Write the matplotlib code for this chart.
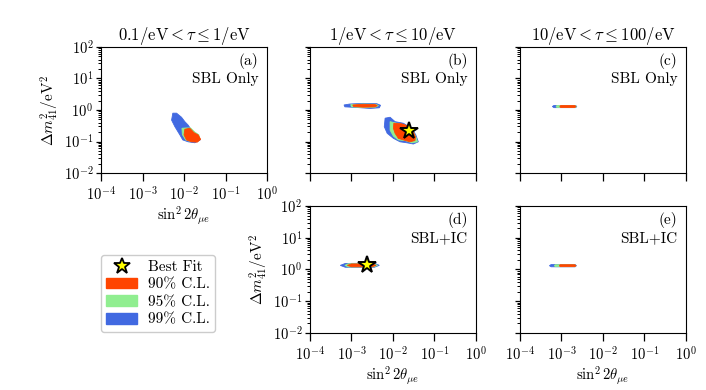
import numpy as np
import matplotlib
matplotlib.use("Agg")
import matplotlib.pyplot as plt
from matplotlib.lines import Line2D
from matplotlib.patches import Patch
from matplotlib.ticker import LogLocator, NullLocator

plt.rcParams['mathtext.fontset'] = 'cm'
plt.rcParams['font.family'] = 'serif'
plt.rcParams['font.serif'] = ['cmr10', 'DejaVu Serif']
plt.rcParams['axes.formatter.use_mathtext'] = True

# allowed-region outlines, as (log10 sin^2 2theta, log10 dm2) vertices
A_99 = [(-2.27, -0.10), (-2.30, -0.32), (-2.22, -0.53), (-2.10, -0.79), (-2.03, -0.95),
        (-1.90, -1.01), (-1.74, -1.04), (-1.61, -0.95), (-1.66, -0.79), (-1.82, -0.64),
        (-1.90, -0.48), (-1.98, -0.37), (-2.06, -0.23), (-2.18, -0.10)]
A_95 = [(-2.05, -0.58), (-1.95, -0.57), (-1.84, -0.57), (-1.74, -0.70), (-1.64, -0.79),
        (-1.62, -0.93), (-1.70, -1.00), (-1.84, -1.00), (-1.96, -0.95), (-2.04, -0.78)]
A_90 = [(-1.98, -0.61), (-1.86, -0.58), (-1.76, -0.72), (-1.66, -0.79), (-1.60, -0.93),
        (-1.68, -1.02), (-1.82, -1.01), (-1.94, -0.95), (-2.00, -0.79)]

B_99 = [[(-3.18, 0.16), (-3.04, 0.19), (-2.72, 0.21), (-2.39, 0.20), (-2.30, 0.15),
         (-2.33, 0.07), (-2.55, 0.05), (-2.88, 0.08), (-3.16, 0.10)],
        [(-2.19, -0.26), (-2.07, -0.23), (-1.95, -0.37), (-1.75, -0.42), (-1.55, -0.58),
         (-1.45, -0.79), (-1.39, -1.01), (-1.51, -1.08), (-1.67, -1.04), (-1.83, -1.01),
         (-1.99, -0.90), (-2.14, -0.74), (-2.21, -0.53)]]
B_95 = [[(-3.02, 0.17), (-2.72, 0.19), (-2.42, 0.18), (-2.35, 0.14), (-2.42, 0.09),
         (-2.72, 0.08), (-3.00, 0.10)],
        [(-2.07, -0.37), (-1.91, -0.42), (-1.71, -0.48), (-1.53, -0.64), (-1.45, -0.85),
         (-1.41, -1.01), (-1.55, -1.04), (-1.71, -0.97), (-1.87, -0.95), (-1.99, -0.83),
         (-2.07, -0.64)]]
B_90 = [[(-2.97, 0.16), (-2.72, 0.18), (-2.43, 0.17), (-2.38, 0.14), (-2.43, 0.10),
         (-2.72, 0.09), (-2.95, 0.11)],
        [(-1.98, -0.42), (-1.79, -0.44), (-1.63, -0.51), (-1.51, -0.69), (-1.46, -0.85),
         (-1.47, -0.97), (-1.59, -1.01), (-1.75, -0.95), (-1.87, -0.90), (-1.95, -0.74),
         (-1.99, -0.58)]]
B_FIT = (-1.61, -0.66)

C_99 = [(-3.22, 0.11), (-3.18, 0.145), (-2.66, 0.145), (-2.63, 0.11), (-2.66, 0.075), (-3.18, 0.075)]
C_95 = [(-3.13, 0.11), (-3.11, 0.14), (-2.67, 0.14), (-2.64, 0.11), (-2.67, 0.08), (-3.11, 0.08)]
C_90 = [(-3.04, 0.11), (-3.02, 0.14), (-2.68, 0.14), (-2.65, 0.11), (-2.68, 0.08), (-3.02, 0.08)]

D_99 = [(-3.27, 0.13), (-3.15, 0.19), (-2.45, 0.20), (-2.33, 0.13), (-2.45, 0.07), (-3.15, 0.07)]
D_95 = [(-3.16, 0.13), (-3.08, 0.18), (-2.47, 0.18), (-2.37, 0.13), (-2.47, 0.08), (-3.08, 0.08)]
D_90 = [(-3.10, 0.13), (-3.00, 0.175), (-2.50, 0.175), (-2.41, 0.13), (-2.50, 0.085), (-3.00, 0.085)]
D_FIT = (-2.62, 0.13)

E_99 = [(-3.29, 0.12), (-3.25, 0.155), (-2.67, 0.155), (-2.64, 0.12), (-2.67, 0.085), (-3.25, 0.085)]
E_95 = [(-3.17, 0.12), (-3.15, 0.15), (-2.68, 0.15), (-2.65, 0.12), (-2.68, 0.09), (-3.15, 0.09)]
E_90 = [(-3.05, 0.12), (-3.03, 0.15), (-2.68, 0.15), (-2.65, 0.12), (-2.68, 0.09), (-3.03, 0.09)]

titles = [r'$0.1/\mathrm{eV} < \tau \leq 1/\mathrm{eV}$',
          r'$1/\mathrm{eV} < \tau \leq 10/\mathrm{eV}$',
          r'$10/\mathrm{eV} < \tau \leq 100/\mathrm{eV}$']
legend_labels = ['Best Fit', '90% C.L.', '95% C.L.', '99% C.L.']

C90, C95, C99 = '#FF4500', '#90EE90', '#4169E1'


def fill_region(ax, verts, color):
    v = 10.0 ** np.asarray(verts)
    ax.fill(v[:, 0], v[:, 1], color=color, lw=0.6, ec=color)


def setup(ax, letter, tag, xlab, ylab):
    ax.set_xscale('log')
    ax.set_yscale('log')
    ax.set_xlim(1e-4, 1)
    ax.set_ylim(1e-2, 1e2)
    ax.xaxis.set_major_locator(LogLocator(base=10, numticks=10))
    ax.xaxis.set_minor_locator(NullLocator())
    ax.yaxis.set_minor_locator(LogLocator(base=10, subs=np.arange(2, 10), numticks=20))
    ax.tick_params(which='major', direction='out', length=3.5, width=0.9, labelsize=10.5, pad=2)
    ax.tick_params(which='minor', direction='out', length=2.2, width=0.7)
    ax.tick_params(axis='x', which='major', length=6, pad=3)
    if not xlab:
        ax.set_xticklabels([])
    else:
        ax.set_xlabel(r'$\sin^2 2\theta_{\mu e}$', fontsize=10.5, labelpad=1)
    if not ylab:
        ax.set_yticklabels([])
    else:
        ax.set_ylabel(r'$\Delta m^2_{41}/\mathrm{eV}^2$', fontsize=11, labelpad=2)
    ax.text(0.95, 0.955, '(%s)' % letter, transform=ax.transAxes,
            ha='right', va='top', fontsize=11)
    ax.text(0.95, 0.80, tag, transform=ax.transAxes, ha='right', va='top', fontsize=11)


def best_fit(ax, pt):
    ax.plot(10 ** pt[0], 10 ** pt[1], marker='*', ms=13, mfc='yellow', mec='black',
            mew=1.4, ls='none', zorder=5)


fig = plt.figure(figsize=(7.06, 3.9), dpi=100)
W, H1, H2 = 0.2351, 0.3231, 0.3256
ax_a = fig.add_axes([0.1431, 0.5564, W, H1])
ax_b = fig.add_axes([0.4391, 0.5564, W, H1])
ax_c = fig.add_axes([0.7365, 0.5564, W, H1])
ax_d = fig.add_axes([0.4391, 0.1462, W, H2])
ax_e = fig.add_axes([0.7365, 0.1462, W, H2])

for verts, col in [(A_99, C99), (A_95, C95), (A_90, C90)]:
    fill_region(ax_a, verts, col)
for group, col in [(B_99, C99), (B_95, C95), (B_90, C90)]:
    for verts in group:
        fill_region(ax_b, verts, col)
best_fit(ax_b, B_FIT)
for verts, col in [(C_99, C99), (C_95, C95), (C_90, C90)]:
    fill_region(ax_c, verts, col)
for verts, col in [(D_99, C99), (D_95, C95), (D_90, C90)]:
    fill_region(ax_d, verts, col)
best_fit(ax_d, D_FIT)
for verts, col in [(E_99, C99), (E_95, C95), (E_90, C90)]:
    fill_region(ax_e, verts, col)

setup(ax_a, 'a', 'SBL Only', True, True)
setup(ax_b, 'b', 'SBL Only', False, False)
setup(ax_c, 'c', 'SBL Only', False, False)
setup(ax_d, 'd', 'SBL+IC', True, True)
setup(ax_e, 'e', 'SBL+IC', True, False)

for ax, t in zip([ax_a, ax_b, ax_c], titles):
    ax.set_title(t, fontsize=12, pad=4)

handles = [Line2D([], [], marker='*', ms=12, mfc='yellow', mec='black', mew=1.3, ls='none'),
           Patch(color=C90), Patch(color=C95), Patch(color=C99)]
fig.legend(handles, legend_labels, loc='lower left', bbox_to_anchor=(0.143, 0.149),
           borderaxespad=0, fontsize=11, handlelength=2.0, handleheight=0.7,
           handletextpad=0.7, labelspacing=0.25, borderpad=0.35,
           framealpha=1, edgecolor='#cccccc')

fig.savefig('out.png', dpi=100)
